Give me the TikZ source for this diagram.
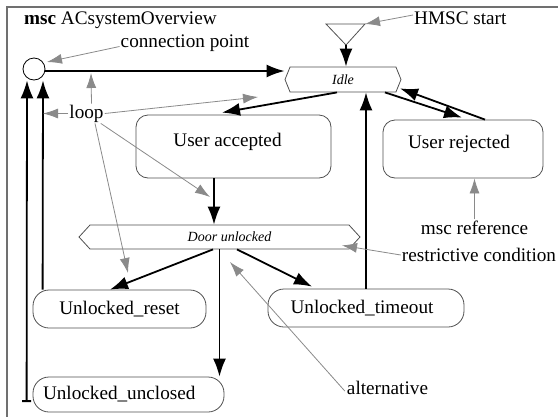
\documentclass[tikz,border=0pt]{standalone}
\usepackage{fontspec}
\setmainfont{Liberation Serif}
\usepackage{tikz}
\usetikzlibrary{arrows.meta,shapes.symbols,calc}
\definecolor{MscInk}{HTML}{000000}
\definecolor{MscGrey}{HTML}{8A8A8A}
\definecolor{MscEdge}{HTML}{505050}
\definecolor{MscFrame}{HTML}{707070}
\newcommand{\mscfont}{\fontsize{19.2}{22}\selectfont}
\newcommand{\condfont}{\fontsize{14}{16}\selectfont\itshape}
\tikzset{
  state/.style={draw=MscEdge,line width=0.8pt,rounded corners=12pt,font=\mscfont,inner sep=0pt},
  cond/.style={signal,signal to=west and east,draw=MscEdge,line width=0.8pt,font=\condfont,inner sep=0pt},
  cpoint/.style={circle,draw=MscInk,line width=0.8pt,minimum size=22pt,inner sep=0pt},
  note/.style={font=\mscfont,inner sep=1pt},
  flow/.style={-{Latex[length=18pt,width=13pt]},line width=1.8pt,draw=MscInk},
  remark/.style={-{Latex[length=15pt,width=10pt]},line width=0.8pt,draw=MscGrey}
}

\begin{document}
\begin{tikzpicture}[x=1pt,y=-1pt]
  \useasboundingbox (0,0) rectangle (558,416);
  \clip (0,0) rectangle (558,416);
  \draw[MscFrame,line width=1.4pt] (7,430) -- (7,7) -- (570,7);
  \node[note,anchor=base west] (title) at (23,24) {\textbf{msc} ACsystemOverview};

  % start symbol and connection point
  \draw[draw=MscEdge,line width=0.8pt] (326,24) coordinate (tri-l) -- (365,24) coordinate (tri-r)
    -- (346,45) coordinate (start) -- cycle;
  \node[cpoint] (cp) at (34,69) {};

  % conditions and references
  \node[cond,minimum width=116,minimum height=25,signal pointer angle=136] (idle) at (343,79.5) {Idle};
  \node[state,minimum width=195,minimum height=63,text depth=14] (ua) at (233.5,146.5) {User accepted\hspace*{12pt}};
  \node[state,minimum width=160,minimum height=58,text depth=14] (ur) at (463,149) {User rejected\hspace*{8pt}};
  \node[cond,minimum width=281,minimum height=24,signal pointer angle=95] (door) at (219.5,237) {\hspace*{20pt}Door unlocked};
  \node[state,rounded corners=16pt,minimum width=173,minimum height=38] (reset) at (119.5,309) {Unlocked\_reset};
  \node[state,rounded corners=16pt,minimum width=196,minimum height=38] (timeout) at (366,308) {Unlocked\_timeout\hspace*{8pt}};
  \node[state,rounded corners=16pt,minimum height=35,text width=171,inner xsep=10pt,align=left] (unclosed) at (128.5,394.5) {Unlocked\_unclosed};

  % annotations
  \node[note] (cpl) at (185,43.5) {connection point};
  \node[note,anchor=west] (hsl) at (413,18.5) {HMSC start};
  \node[note] (loop) at (86.5,113.5) {loop};
  \node[note] (mref) at (474.5,227.5) {msc reference};
  \node[note] (rcl) at (479,255) {restrictive condition};
  \node[note] (alt) at (387.5,388) {alternative};
  \coordinate (lp-up) at (91,73);
  \coordinate (lp-left) at (43,113.5);
  \coordinate (lp-right) at (258,97);
  \coordinate (lp-door) at (210,197);
  \coordinate (lp-reset) at (128,273);
  \coordinate (alt-tip) at (230,262);

  % flow
  \draw[flow] ($(cp.east)+(0,2)$) -- ($(idle.west)+(0,-8.5)$);
  \draw[flow] (start) -- (start |- idle.north);
  \draw[flow] ($(idle.south)+(-6,0)$) -- ($(ua.north)+(-11.5,-2)$);
  \draw[flow] ($(idle.south)+(42,0)$) -- ($(ur.north)+(-1,-2)$);
  \draw[flow] ($(ur.north)+(22,0)$) -- ($(idle.south)+(57,-4)$);
  \draw[flow] ($(ua.south)+(-19.5,0)$) -- ($(door.north)+(-5.5,0)$);
  \draw[flow] (timeout.north) -- (timeout.north |- idle.south);
  \draw[flow] ($(door.south)+(-6.5,0)$) -- ($(reset.north)+(-9.5,0)$);
  \draw[flow] (door.south) -- (door.south |- unclosed.north);
  \draw[flow] ($(door.south)+(17.5,0)$) -- ($(timeout.north)+(-54,-2)$);
  \draw[flow] ($(reset.north west)+(10,0)$) -- ($(cp.south)+(9,0)$);
  \draw[flow,{Bar[width=9pt]}-{Latex[length=18pt,width=13pt]}] ($(unclosed.west)+(-6,7.5)$) -- ($(cp.south)+(-7,0)$);

  % remarks
  \draw[remark] ($(cpl.west)+(0,3)$) -- ($(cp.center)+(13,-7)$);
  \draw[remark] ($(hsl.west)+(0,-3.5)$) -- (tri-r);
  \draw[remark] ($(loop.north)+(5,0)$) -- (lp-up);
  \draw[remark] (loop.west) -- (lp-left);
  \draw[remark] (loop.east) -- (lp-right);
  \draw[remark] ($(loop.south east)+(-4,0)$) -- (lp-door);
  \draw[remark] ($(loop.south)+(8.5,0)$) -- (lp-reset);
  \draw[remark] (mref.north) -- (mref.north |- ur.south);
  \draw[remark] (rcl.west) -- ($(door.south)+(122.5,-4)$);
  \draw[remark] ($(alt.west)+(-1,3)$) -- (alt-tip);
\end{tikzpicture}
\end{document}
